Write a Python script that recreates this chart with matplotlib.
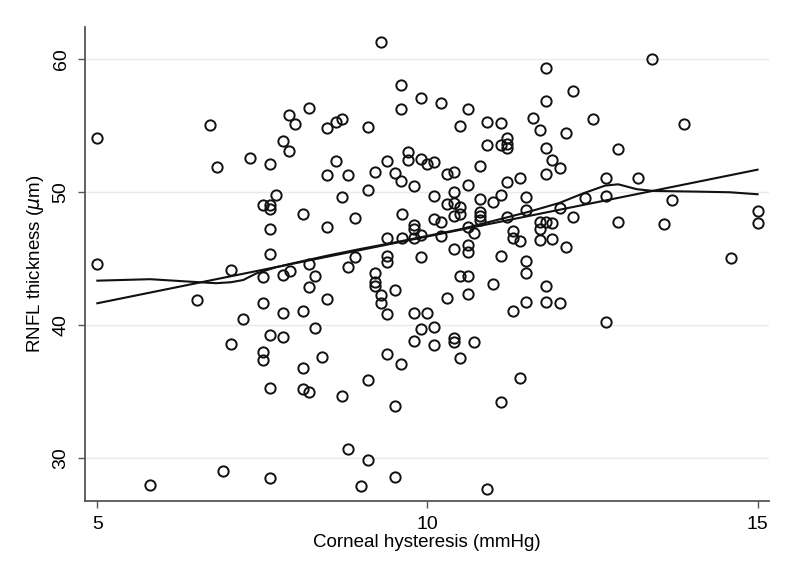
import matplotlib
matplotlib.use("Agg")
import matplotlib.pyplot as plt

# corneal hysteresis (mmHg) vs RNFL thickness (um)
ch = [5.00, 6.71, 6.81, 7.31, 7.61, 7.90, 8.00, 8.20, 7.81, 7.90, 8.48, 8.48, 7.70, 7.51,
      7.61, 7.61, 8.11, 8.48, 7.61, 7.61, 5.00, 7.02,
      7.51, 7.81, 7.92, 8.20, 8.30, 8.20, 8.48, 6.51, 7.51, 7.81, 8.11, 7.20, 8.30, 7.61,
      7.81, 7.02, 7.51, 7.51, 8.41, 8.11, 7.61, 8.11, 8.20, 6.90, 5.80, 7.61,
      9.30, 9.60, 9.90, 9.60, 10.20, 10.61, 8.61, 8.71, 9.10, 10.49, 10.90, 11.11, 11.60,
      11.70, 11.79, 11.79, 11.79, 11.89, 11.79, 10.90, 11.11, 11.21, 11.21, 11.21, 8.61,
      8.80, 8.71, 9.10, 9.21, 9.39, 9.51, 9.60, 9.71, 9.71, 9.90, 10.00, 10.10, 9.80,
      10.10, 10.30, 10.40, 10.79, 10.61, 10.40, 10.30, 10.40, 10.50, 10.40, 10.50, 10.79,
      10.79, 10.79, 10.79, 10.99, 11.11, 11.21, 11.40, 11.50, 11.50, 11.21, 9.61, 8.91,
      9.39, 9.61, 9.80, 9.80, 9.90, 9.80, 10.10, 10.20, 10.20, 10.61, 10.70, 10.40,
      10.61, 10.61, 9.90, 9.39, 9.39, 8.91, 8.80, 11.11, 11.29, 11.29, 11.40, 11.50,
      11.70, 11.70, 11.80, 11.70,
      11.50, 11.80, 11.80, 11.50, 11.29, 10.99, 10.49, 10.61, 10.61, 10.30, 9.21, 9.21,
      9.21, 9.30, 9.30, 9.51, 9.39, 9.80, 10.00, 9.90, 10.10, 9.80, 10.10, 10.40, 10.40,
      10.70, 10.49, 9.39, 9.60, 9.10, 8.70, 9.51, 11.40, 11.11, 8.80, 9.10, 9.51, 9.00,
      10.90,
      13.40, 12.20, 12.50, 13.89, 12.10, 12.00, 12.89, 12.70, 13.19, 12.39, 12.70, 12.00,
      13.70, 11.89, 12.20, 12.89, 13.59, 15.00, 15.00, 11.89, 12.10, 14.59, 12.00, 12.70]
rnfl = [54.06, 55.06, 51.88, 52.58, 52.10, 55.83, 55.14, 56.32, 53.88, 53.10, 54.83, 51.30,
        49.82, 49.05, 49.05, 48.72, 48.37, 47.41, 47.24, 45.38, 44.59, 44.15,
        43.65, 43.76, 44.06, 44.60, 43.68, 42.88, 41.98, 41.88, 41.65, 40.92, 41.10, 40.45,
        39.82, 39.27, 39.14, 38.57, 37.97, 37.37, 37.59, 36.79, 35.31, 35.19, 34.98, 29.00,
        27.97, 28.52,
        61.30, 58.05, 57.10, 56.24, 56.74, 56.24, 55.26, 55.53, 54.91, 54.98, 55.30, 55.23,
        55.61, 54.68, 59.37, 56.86, 53.35, 52.43, 51.40, 53.58, 53.58, 54.06, 53.60, 53.31,
        52.33, 51.32, 49.62, 50.15, 51.55, 52.33, 51.45, 50.83, 53.03, 52.43, 52.48, 52.13,
        52.26, 50.47, 49.74, 51.38, 51.55, 51.95, 50.55, 50.00, 49.10, 49.17, 48.87, 48.22,
        48.37, 49.52, 48.54, 48.24, 47.92, 49.30, 49.80, 50.75, 51.10, 49.62, 48.67, 48.17,
        48.37, 48.05, 46.54, 46.54, 47.54, 47.22, 46.79, 46.54, 47.97, 47.74, 46.71, 47.41,
        46.96, 45.71, 46.04, 45.49, 45.14, 45.21, 44.74, 45.14, 44.41, 45.21, 47.12, 46.54,
        46.34, 44.86, 47.74, 47.22, 47.74, 46.41,
        43.91, 42.98, 41.73, 41.78, 41.10, 43.13, 43.71, 43.73, 42.35, 42.03, 43.95, 43.28,
        42.98, 42.28, 41.65, 42.65, 40.85, 40.95, 40.95, 39.70, 39.89, 38.84, 38.50, 39.02,
        38.72, 38.77, 37.52, 37.82, 37.11, 35.89, 34.68, 33.93, 36.04, 34.21, 30.70, 29.85,
        28.59, 27.89, 27.67,
        60.00, 57.64, 55.54, 55.14, 54.44, 51.80, 53.28, 51.10, 51.10, 49.59, 49.74, 48.80,
        49.42, 47.67, 48.12, 47.74, 47.59, 48.60, 47.67, 46.49, 45.91, 45.08, 41.65, 40.23]

# linear fit (end points as drawn)
fit_x = [5.0, 15.0]
fit_y = [41.65, 51.70]

# lowess smoother as drawn
lowess_x = [5.0, 5.8, 6.55, 6.8, 7.02, 7.21, 7.41, 7.7, 8.0, 8.5, 9.0, 9.5, 10.0, 10.5,
            11.0, 11.54, 12.0, 12.36, 12.69, 12.89, 13.17, 13.42, 14.07, 14.58, 15.0]
lowess_y = [43.35, 43.46, 43.23, 43.16, 43.23, 43.40, 43.90, 44.35, 44.70, 45.25, 45.75,
            46.22, 46.72, 47.22, 47.85, 48.54, 49.20, 49.92, 50.50, 50.60, 50.23, 50.10,
            50.05, 50.00, 49.85]

plt.rcParams["font.family"] = ["Liberation Sans", "DejaVu Sans"]

fig = plt.figure(figsize=(8.0, 5.88), dpi=100)
ax = fig.add_axes([0.106, 0.1485, 0.855, 0.806])

ax.plot(ch, rnfl, "o", ms=7.4, mfc="none", mec="#111111", mew=1.4, zorder=3)
ax.plot(fit_x, fit_y, "-", color="#111111", lw=1.5, zorder=4)
ax.plot(lowess_x, lowess_y, "-", color="#111111", lw=1.5, zorder=4)

ax.set_xlim(4.81, 15.17)
ax.set_ylim(26.8, 62.45)
ax.set_xticks([5, 10, 15])
ax.set_yticks([30, 40, 50, 60])
ax.grid(axis="y", color="#eaeaea", lw=1.0)
ax.set_axisbelow(True)
for s in ("top", "right"):
    ax.spines[s].set_visible(False)
for s in ("left", "bottom"):
    ax.spines[s].set_color("#555555")
    ax.spines[s].set_linewidth(1.3)
ax.tick_params(direction="out", length=5, width=1.0, color="#555555",
               labelsize=14, pad=6)
for lab in ax.get_yticklabels():
    lab.set_rotation(90)
    lab.set_va("center")
ax.set_xlabel("Corneal hysteresis (mmHg)", fontsize=13.5, labelpad=1)
ax.set_ylabel(r"RNFL thickness ($\mu$m)", fontsize=13.5, labelpad=5)

fig.savefig("out.png", dpi=100, facecolor="white")
